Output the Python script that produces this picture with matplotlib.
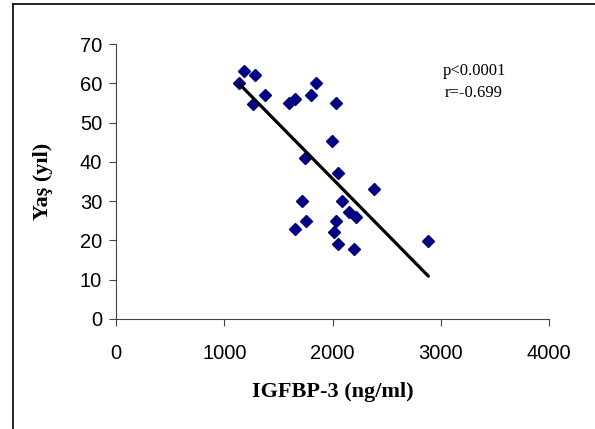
import numpy as np
import matplotlib
matplotlib.use("Agg")
import matplotlib.pyplot as plt
from matplotlib.lines import Line2D

# Data
igfbp3 = [1180, 1287, 1139, 1843, 1380, 1262, 1596, 1657, 1805, 2028,
          1997, 1750, 2049, 2383, 1719, 2089, 2151, 2213, 2028, 1756,
          1657, 2012, 2049, 2197, 2886]
age = [63.2, 62.1, 60.0, 60.1, 57.0, 54.7, 55.0, 55.9, 57.0, 55.0,
       45.3, 41.0, 37.2, 33.2, 30.1, 30.1, 27.2, 26.0, 25.0, 25.0,
       22.9, 22.1, 19.0, 17.8, 19.9]
x_ticks = [0, 1000, 2000, 3000, 4000]
y_ticks = [0, 10, 20, 30, 40, 50, 60, 70]
stats_text = ["p<0.0001", "r=-0.699"]

fig = plt.figure(figsize=(5.95, 4.29), dpi=100)
ax = fig.add_axes([116 / 595, 1 - 319 / 429, (549 - 116) / 595, (319 - 44) / 429])

x = np.array(igfbp3, dtype=float)
y = np.array(age, dtype=float)
slope, intercept = np.polyfit(x, y, 1)
xl = np.array([x.min(), x.max()])
ax.plot(xl, slope * xl + intercept, color="black", lw=2.3, solid_capstyle="round", zorder=3)

ax.plot(x, y, linestyle="none", marker="D", ms=6.6, color="#000080",
        markeredgecolor="#000080", zorder=2)

ax.set_xlim(0, 4000)
ax.set_ylim(0, 70)
ax.set_xticks(x_ticks)
ax.set_yticks(y_ticks)
for s in ["top", "right"]:
    ax.spines[s].set_visible(False)
for s in ["left", "bottom"]:
    ax.spines[s].set_linewidth(0.8)
    ax.spines[s].set_color("#444444")
ax.tick_params(direction="out", length=5, width=0.8, color="#444444",
               labelsize=14.5, pad=5)
for lab in ax.get_xticklabels() + ax.get_yticklabels():
    lab.set_fontfamily("Liberation Sans")
ax.tick_params(axis="x", pad=13)

ax.set_xlabel("IGFBP-3 (ng/ml)", family="Liberation Serif", weight="bold",
              fontsize=16, labelpad=14)
ax.set_ylabel("Yaş (yıl)", family="Liberation Serif", weight="bold",
              fontsize=16, labelpad=19)

fig.text(474 / 595, 1 - 71 / 429, stats_text[0], family="Liberation Serif",
         fontsize=12, ha="center", va="center")
fig.text(474 / 595, 1 - 93 / 429, stats_text[1], family="Liberation Serif",
         fontsize=12, ha="center", va="center")

# figure border (top and left visible)
fig.add_artist(Line2D([13 / 595, 1.0], [1 - 4 / 429, 1 - 4 / 429],
                      transform=fig.transFigure, color="black", lw=1.2))
fig.add_artist(Line2D([13 / 595, 13 / 595], [0.0, 1 - 4 / 429],
                      transform=fig.transFigure, color="black", lw=1.2))

fig.savefig("out.png", dpi=100)
